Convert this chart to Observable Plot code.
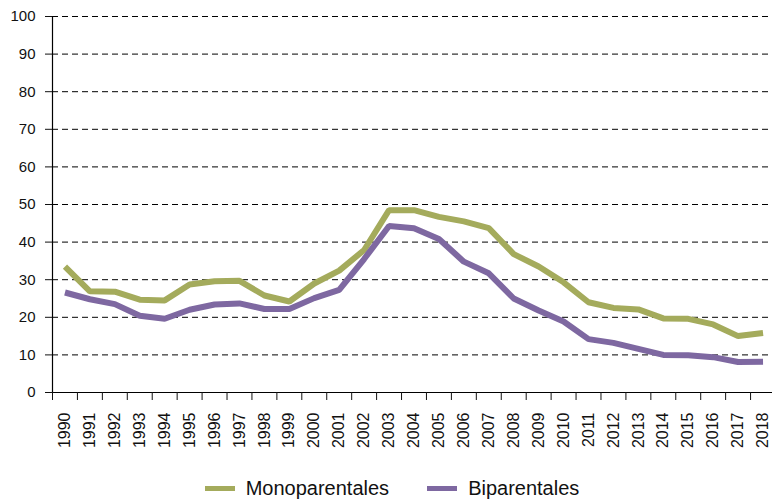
<!DOCTYPE html>
<html>
<head>
<meta charset="utf-8">
<script src="https://cdn.jsdelivr.net/npm/d3@7"></script>
<script src="https://cdn.jsdelivr.net/npm/@observablehq/plot@0.6"></script>
<style>
  html, body { margin: 0; padding: 0; background: #fff; overflow: hidden; }
  body { width: 772px; height: 501px; font-family: "Liberation Sans", Arial, sans-serif; }
  #chart svg { display: block; overflow: hidden; }
  #legend { display: flex; justify-content: center; align-items: center; height: 41px; padding-left: 12px; box-sizing: border-box; font-size: 20px; color: #111; margin-top: 8px; }
  .item { display: flex; align-items: center; margin: 0 19px; }
  .sw { width: 30px; height: 5px; margin-right: 11px; }
</style>
</head>
<body>
<div id="chart"></div>
<div id="legend"></div>
<script>
const years = [1990,1991,1992,1993,1994,1995,1996,1997,1998,1999,2000,2001,2002,2003,2004,2005,2006,2007,2008,2009,2010,2011,2012,2013,2014,2015,2016,2017,2018];
const monoparentales = [33.5,26.9,26.8,24.7,24.5,28.7,29.6,29.7,25.8,24.2,29.0,32.4,37.9,48.5,48.5,46.7,45.5,43.7,36.8,33.5,29.3,24.0,22.5,22.1,19.7,19.6,18.1,15.0,15.8];
const biparentales = [26.6,24.8,23.5,20.4,19.6,22.0,23.4,23.7,22.2,22.2,25.1,27.3,35.5,44.3,43.7,40.8,34.8,31.7,25.0,21.8,18.9,14.2,13.2,11.6,10.0,9.9,9.4,8.1,8.2];
const seriesNames = ["Monoparentales", "Biparentales"];
const seriesColors = ["#a4ab5c", "#7e68a1"];
const yTicks = [0,10,20,30,40,50,60,70,80,90,100];

const data = [];
years.forEach((yr, i) => {
  data.push({year: yr, value: monoparentales[i], serie: seriesNames[0]});
  data.push({year: yr, value: biparentales[i], serie: seriesNames[1]});
});
const bounds = [years[0] - 0.5, ...years.map(y => y + 0.5)];

const chart = Plot.plot({
  width: 772,
  height: 460,
  marginLeft: 52,
  marginRight: 0,
  marginTop: 16,
  marginBottom: 68,
  style: {fontFamily: "'Liberation Sans', Arial, sans-serif", color: "#111", background: "#fff"},
  x: {type: "linear", domain: [years[0] - 0.5, years[years.length - 1] + 0.5], range: [52, 775]},
  y: {domain: [0, 100]},
  color: {domain: seriesNames, range: seriesColors},
  marks: [
    Plot.ruleY(yTicks.filter(d => d > 0), {x1: bounds[0], x2: 2019.2, stroke: "#000", strokeWidth: 1, strokeDasharray: "6,4"}),
    Plot.ruleY([0], {x1: bounds[0], x2: 2019.2, stroke: "#000", strokeWidth: 1}),
    Plot.ruleX([bounds[0]], {y1: 0, y2: 100, stroke: "#000", strokeWidth: 1.2}),
    Plot.axisY({ticks: yTicks, tickSize: 7, tickPadding: 10, fontSize: 15, label: null, tickFormat: d => String(d)}),
    Plot.axisX({ticks: bounds, tickSize: 8, tickFormat: () => "", label: null}),
    Plot.axisX({ticks: years, tickSize: 0, tickPadding: 20, tickRotate: -90, fontSize: 16, tickFormat: d => String(d), label: null}),
    Plot.line(data, {x: "year", y: "value", z: "serie", stroke: "serie", strokeWidth: 6, strokeLinejoin: "miter", strokeLinecap: "butt"})
  ]
});
document.getElementById("chart").appendChild(chart);

const legend = document.getElementById("legend");
seriesNames.forEach((name, i) => {
  const item = document.createElement("div");
  item.className = "item";
  const sw = document.createElement("span");
  sw.className = "sw";
  sw.style.background = seriesColors[i];
  const t = document.createElement("span");
  t.textContent = name;
  item.appendChild(sw);
  item.appendChild(t);
  legend.appendChild(item);
});
</script>
</body>
</html>
